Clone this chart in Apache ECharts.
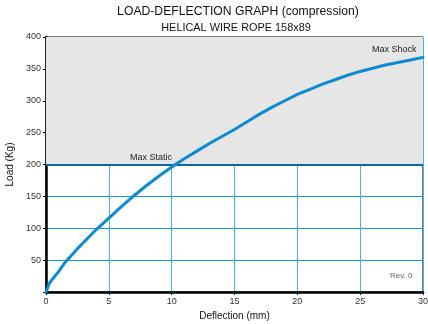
<!DOCTYPE html>
<html><head><meta charset="utf-8">
<script src="https://cdn.jsdelivr.net/npm/echarts@6/dist/echarts.min.js"></script>
<style>html,body{margin:0;padding:0;background:#fff}#c{width:428px;height:324px}</style>
</head><body><div id="c"></div>
<script>
var deflection = [0, 0.25, 0.5, 1, 1.5, 2, 2.5, 3, 4, 5, 6, 7, 8, 9, 10, 11, 12, 13, 14, 15, 16, 17, 18, 19, 20, 21, 22, 23, 24, 25, 26, 27, 28, 29, 30];
var load = [0, 13, 20, 32, 46, 57, 68, 78, 98, 116, 134, 151, 167, 182, 196, 209, 221, 233, 244, 255, 267, 279, 290, 300, 310, 318, 326, 333, 340, 346, 351, 356, 360, 364, 368];
var xTicks = [0, 5, 10, 15, 20, 25, 30];
var yTicks = [50, 100, 150, 200, 250, 300, 350, 400];
var maxStatic = 200, maxShock = 400;

var chart = echarts.init(document.getElementById('c'), null, {renderer: 'canvas'});
var font = 'Liberation Sans, Arial, sans-serif';
chart.setOption({
  animation: false,
  title: [
    {text: 'LOAD-DEFLECTION GRAPH (compression)', top: 1, left: 233, textAlign: 'center',
     textStyle: {fontFamily: font, fontSize: 12.2, fontWeight: 'normal', color: '#111'}},
    {text: 'HELICAL WIRE ROPE 158x89', top: 17, left: 231, textAlign: 'center',
     textStyle: {fontFamily: font, fontSize: 10.9, fontWeight: 'normal', color: '#111'}}
  ],
  grid: {left: 46, right: 5, top: 37, bottom: 32, show: true, borderColor: '#000', borderWidth: 1,
         outerBoundsMode: 'none', containLabel: false},
  xAxis: {
    type: 'value', min: 0, max: 30, interval: 5,
    name: 'Deflection (mm)', nameLocation: 'middle', nameGap: 19,
    nameTextStyle: {fontFamily: font, fontSize: 10, color: '#111'},
    axisLine: {lineStyle: {color: '#000', width: 2.5}},
    axisTick: {show: true, length: 3, lineStyle: {color: '#000'}},
    axisLabel: {fontFamily: font, fontSize: 9, color: '#333', margin: 5,
      formatter: function(v){ return xTicks.indexOf(v) >= 0 ? String(v) : ''; }},
    splitLine: {lineStyle: {color: '#45b4e6', width: 1}}
  },
  yAxis: {
    type: 'value', min: 0, max: 400, interval: 50,
    name: 'Load (Kg)', nameLocation: 'middle', nameGap: 29,
    nameTextStyle: {fontFamily: font, fontSize: 10, color: '#111'},
    axisLine: {show: true, lineStyle: {color: '#000', width: 2.5}},
    axisTick: {show: true, length: 3, lineStyle: {color: '#000'}},
    axisLabel: {fontFamily: font, fontSize: 9, color: '#333', margin: 5,
      formatter: function(v){ return yTicks.indexOf(v) >= 0 ? String(v) : ''; }},
    splitLine: {lineStyle: {color: '#1f95d2', width: 1}}
  },
  series: [{
    type: 'line',
    data: deflection.map(function(d, i){ return [d, load[i]]; }),
    smooth: false,
    showSymbol: false,
    lineStyle: {color: '#0d8bd1', width: 3, join: 'round', cap: 'round'},
    z: 5,
    markArea: {
      silent: true,
      itemStyle: {color: '#e6e6e6'},
      data: [[{yAxis: maxStatic}, {yAxis: maxShock}]],
      z: 1
    },
    markLine: {
      silent: true, symbol: 'none',
      lineStyle: {color: '#10679a', width: 2, type: 'solid'},
      label: {show: false},
      data: [{yAxis: maxStatic}]
    }
  }],
  graphic: [
    {type: 'text', z: 100, left: 130, top: 153, style: {text: 'Max Static', font: '9px ' + font, fill: '#222'}},
    {type: 'text', z: 100, left: 372, top: 45, style: {text: 'Max Shock', font: '9px ' + font, fill: '#222'}},
    {type: 'text', z: 100, left: 390, top: 272, style: {text: 'Rev. 0', font: '8px ' + font, fill: '#666'}}
  ]
});
</script></body></html>
